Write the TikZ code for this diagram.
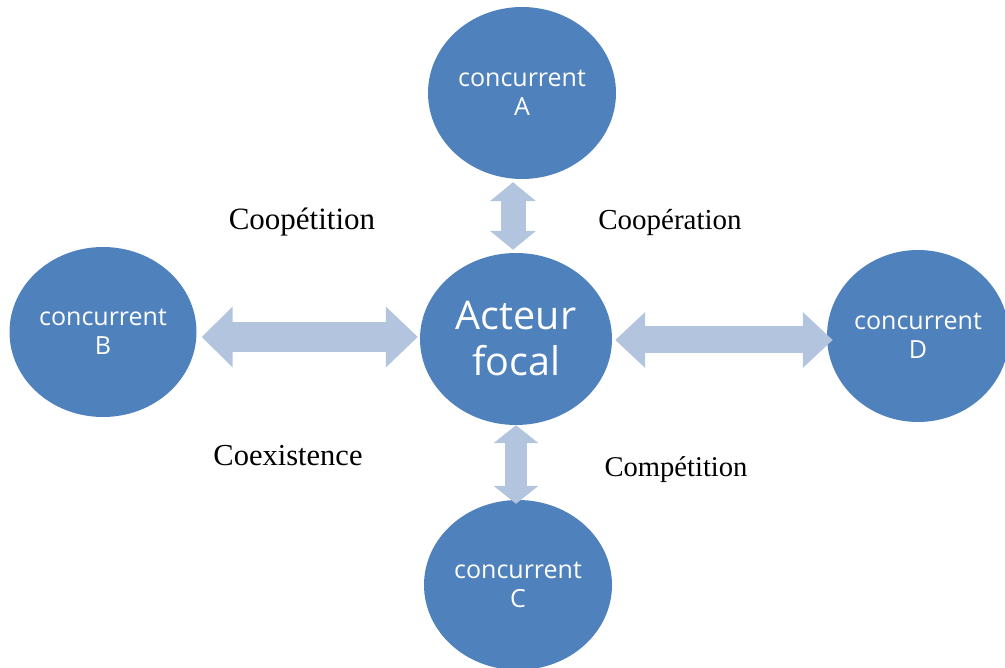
\documentclass[tikz,border=0pt]{standalone}
\usepackage{fontspec}
\setmainfont{Liberation Serif}
\newfontfamily\circfont{Open Sans}
\usetikzlibrary{shapes.geometric,arrows.meta}
\definecolor{circblue}{RGB}{79,129,189}
\definecolor{arrblue}{RGB}{179,196,223}
\tikzset{
  circ/.style={ellipse, fill=circblue, draw=none, inner sep=0pt, text=white, align=center,
    font=\circfont\fontsize{25}{29}\selectfont},
  lbl/.style={anchor=base, text=black, inner sep=0pt},
  biarrow/.style={draw=arrblue, line width=#1},
}
\begin{document}
\begin{tikzpicture}[x=1pt,y=-1pt]
\useasboundingbox (0,0) rectangle (1005,668);
\node[circ, minimum width=188pt, minimum height=172pt] (A) at (522,93) {concurrent\\A};
\node[circ, minimum width=192pt, minimum height=172pt, font=\circfont\fontsize{39.5}{46}\selectfont] (F) at (516,339) {Acteur\\focal};
\node[circ, minimum width=187pt, minimum height=170pt] (B) at (103,332) {concurrent\\B};
\node[circ, minimum width=182pt, minimum height=172pt] (D) at (918,336) {concurrent\\D};
\node[circ, minimum width=188pt, minimum height=170pt] (C) at (518,585) {concurrent\\C};
% connectors
\draw[biarrow=25pt, {Triangle[length=19pt,width=45pt]}-{Triangle[length=19pt,width=45pt]}]
  ([xshift=-9pt,yshift=-3pt]A.south) -- ([xshift=-3pt,yshift=3pt]F.north);
\draw[biarrow=22pt, {Triangle[length=18pt,width=44pt]}-{Triangle[length=18pt,width=44pt]}]
  ([xshift=0pt,yshift=0pt]F.south) -- ([xshift=-2pt,yshift=-4pt]C.north);
\draw[biarrow=30pt, {Triangle[length=31pt,width=59pt]}-{Triangle[length=32pt,width=59pt]}]
  ([xshift=5pt,yshift=-5pt]B.east) -- ([xshift=-2pt,yshift=2pt]F.west);
\draw[biarrow=27pt, {Triangle[length=30pt,width=54pt]}-{Triangle[length=30pt,width=54pt]}]
  ([xshift=3pt,yshift=-1pt]F.east) -- ([xshift=6pt,yshift=-4pt]D.west);
% labels
\node[lbl, font=\fontsize{31}{36}\selectfont] (l1) at (302,230) {Coopétition};
\node[lbl, font=\fontsize{29}{34}\selectfont] (l2) at (670,230) {Coopération};
\node[lbl, font=\fontsize{30.5}{36}\selectfont] (l3) at (288,465) {Coexistence};
\node[lbl, font=\fontsize{28.6}{34}\selectfont] (l4) at (676,477) {Compétition};
\end{tikzpicture}
\end{document}
